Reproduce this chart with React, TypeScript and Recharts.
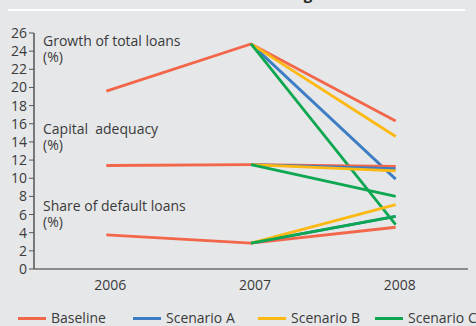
import React from 'react';
import { LineChart, Line, XAxis, YAxis } from 'recharts';

const years = ['2006', '2007', '2008'];

// growth of total loans (%)
const growthBaseline = [19.6, 24.8, 16.3];
const growthA = [null, 24.8, 9.9];
const growthB = [null, 24.8, 14.6];
const growthC = [null, 24.8, 4.9];

// capital adequacy (%)
const capitalBaseline = [11.4, 11.5, 11.3];
const capitalA = [null, 11.5, 11.05];
const capitalB = [null, 11.5, 10.8];
const capitalC = [null, 11.5, 8.0];

// share of default loans (%)
const defaultBaseline = [3.75, 2.85, 4.6];
const defaultA = [null, 2.85, 5.8];
const defaultB = [null, 2.85, 7.1];
const defaultC = [null, 2.85, 5.8];

const yTicks = [0, 2, 4, 6, 8, 10, 12, 14, 16, 18, 20, 22, 24, 26];

const scenarios = [
  { key: 'baseline', name: 'Baseline', color: '#f26649' },
  { key: 'a', name: 'Scenario A', color: '#3c7dc4' },
  { key: 'b', name: 'Scenario B', color: '#fdb913' },
  { key: 'c', name: 'Scenario C', color: '#0ca750' },
];

const data = years.map((year, i) => ({
  year,
  growth_baseline: growthBaseline[i],
  growth_a: growthA[i],
  growth_b: growthB[i],
  growth_c: growthC[i],
  capital_baseline: capitalBaseline[i],
  capital_a: capitalA[i],
  capital_b: capitalB[i],
  capital_c: capitalC[i],
  default_baseline: defaultBaseline[i],
  default_a: defaultA[i],
  default_b: defaultB[i],
  default_c: defaultC[i],
}));

const metrics = ['growth', 'capital', 'default'];

const font = '"Open Sans", "Noto Sans", sans-serif';
const textColor = '#3a3a3a';

const notes = [
  { top: 33, text: 'Growth of total loans' },
  { top: 121, text: 'Capital\u00a0 adequacy' },
  { top: 198, text: 'Share of default loans' },
];

const legendLeft = [18, 133, 258, 375];

export default function App() {
  return (
    <div
      style={{
        position: 'relative',
        width: 476,
        height: 326,
        background: '#e6e7e9',
        overflow: 'hidden',
        fontFamily: font,
      }}
    >
      <style>{`body{margin:0}`}</style>
      <div
        style={{
          position: 'absolute',
          left: 20,
          top: -16,
          fontSize: 15,
          fontWeight: 700,
          color: '#222',
          whiteSpace: 'nowrap',
        }}
      >
        Chart 3: Results of macro stress testing scenarios
      </div>
      <div style={{ position: 'absolute', left: 8, top: 9, width: 457, height: 2, background: '#ffffff' }} />

      <LineChart width={476} height={326} data={data} margin={{ top: 33, right: 8, left: 0, bottom: 27 }}>
        <XAxis
          dataKey="year"
          scale="band"
          tickLine={false}
          axisLine={{ stroke: '#333', strokeWidth: 1.2 }}
          tick={{ fill: textColor, fontSize: 14, fontFamily: font }}
          tickMargin={5}
          dx={4}
          height={30}
        />
        <YAxis
          domain={[0, 26]}
          ticks={yTicks}
          interval={0}
          width={34}
          tickSize={5}
          axisLine={{ stroke: '#555', strokeWidth: 1.5 }}
          tickLine={{ stroke: '#555' }}
          tick={{ fill: textColor, fontSize: 14, fontFamily: font }}
        />
        {metrics.map((m) =>
          scenarios.map((s) => (
            <Line
              key={`${m}_${s.key}`}
              dataKey={`${m}_${s.key}`}
              name={s.name}
              stroke={s.color}
              strokeWidth={2.8}
              dot={false}
              activeDot={false}
              legendType="none"
              isAnimationActive={false}
            />
          ))
        )}
      </LineChart>

      {notes.map((n) => (
        <div
          key={n.text}
          style={{
            position: 'absolute',
            left: 43,
            top: n.top,
            fontSize: 14,
            lineHeight: '16px',
            color: textColor,
            whiteSpace: 'nowrap',
          }}
        >
          {n.text}
          <br />
          (%)
        </div>
      ))}

      {scenarios.map((s, i) => (
        <div
          key={s.key}
          style={{
            position: 'absolute',
            left: legendLeft[i],
            top: 310,
            height: 16,
            lineHeight: '16px',
            display: 'flex',
            alignItems: 'center',
            fontSize: 14,
            color: textColor,
            whiteSpace: 'nowrap',
          }}
        >
          <span style={{ display: 'inline-block', width: 28, height: 3, background: s.color, marginRight: 5 }} />
          {s.name}
        </div>
      ))}
    </div>
  );
}
